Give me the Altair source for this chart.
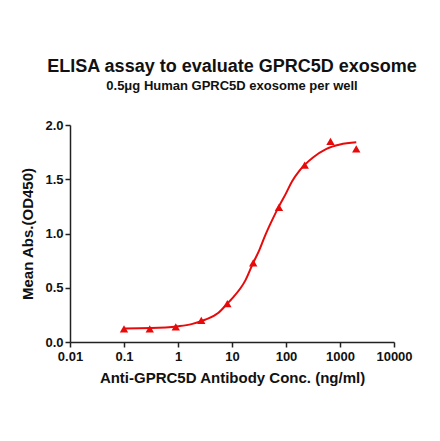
import altair as alt
import pandas as pd

conc = [0.1, 0.3, 0.91, 2.7, 8.2, 24.7, 74, 222, 667, 2000]
od = [0.12, 0.12, 0.14, 0.20, 0.354, 0.73, 1.24, 1.63, 1.85, 1.78]

curve_x = [0.1, 0.316, 1, 1.78, 3.16, 5.62, 8.2, 10, 17.8, 24.7, 31.6, 41.4, 56.2, 74, 100, 129, 178, 316, 562, 1000, 2000]
curve_y = [0.125, 0.128, 0.145, 0.165, 0.205, 0.27, 0.354, 0.40, 0.57, 0.73, 0.84, 0.985, 1.13, 1.25, 1.37, 1.48, 1.58, 1.70, 1.78, 1.82, 1.84]

x_ticks = [0.01, 0.1, 1, 10, 100, 1000, 10000]
y_ticks = [0, 0.5, 1.0, 1.5, 2.0]

pts = pd.DataFrame({"conc": conc, "od": od})
crv = pd.DataFrame({"conc": curve_x, "od": curve_y})

RED = "#E80A0A"
FONT = "Liberation Sans"
AXC = "#222222"

xenc = alt.X("conc:Q", scale=alt.Scale(type="log", domain=[0.01, 10000]),
             axis=alt.Axis(values=x_ticks, format="~g", title="Anti-GPRC5D Antibody Conc. (ng/ml)",
                           grid=False, tickSize=5, labelPadding=3, titlePadding=7, labelFlush=False,
                           labelFontSize=13, labelFontWeight="bold", titleFontSize=15,
                           titleFontWeight="bold", labelFont=FONT, titleFont=FONT,
                           domainColor=AXC, tickColor=AXC, labelColor="#111111",
                           titleColor="#111111", domainWidth=1.5, tickWidth=1.5))
yenc = alt.Y("od:Q", scale=alt.Scale(domain=[0, 2]),
             axis=alt.Axis(values=y_ticks, format=".1f", title="Mean Abs.(OD450)",
                           grid=False, tickSize=5, labelPadding=2, titlePadding=9, labelFlush=False,
                           labelFontSize=13, labelFontWeight="bold", titleFontSize=15,
                           titleFontWeight="bold", labelFont=FONT, titleFont=FONT,
                           domainColor=AXC, tickColor=AXC, labelColor="#111111",
                           titleColor="#111111", domainWidth=1.5, tickWidth=1.5))

line = alt.Chart(crv).mark_line(color=RED, strokeWidth=2, interpolate="monotone").encode(x=xenc, y=yenc)
points = alt.Chart(pts).mark_point(shape="triangle-up", filled=True, color=RED, size=70, opacity=1).encode(x=xenc, y=yenc)

chart = alt.layer(line, points).properties(
    width=324, height=217,
    title=alt.TitleParams(
        text="ELISA assay to evaluate GPRC5D exosome",
        subtitle="0.5\u03bcg Human GPRC5D exosome per well",
        font=FONT, fontSize=18, fontWeight="bold", color="#111111",
        subtitleFont=FONT, subtitleFontSize=13, subtitleFontWeight="bold", subtitleColor="#111111",
        subtitlePadding=4, anchor="middle", offset=26,
    ),
    autosize=alt.AutoSizeParams(type="none"),
    padding={"left": 62, "top": 117, "right": 30, "bottom": 60},
).configure_view(stroke=None)

chart.save("out.html", embed_options={"renderer": "svg", "actions": False})
